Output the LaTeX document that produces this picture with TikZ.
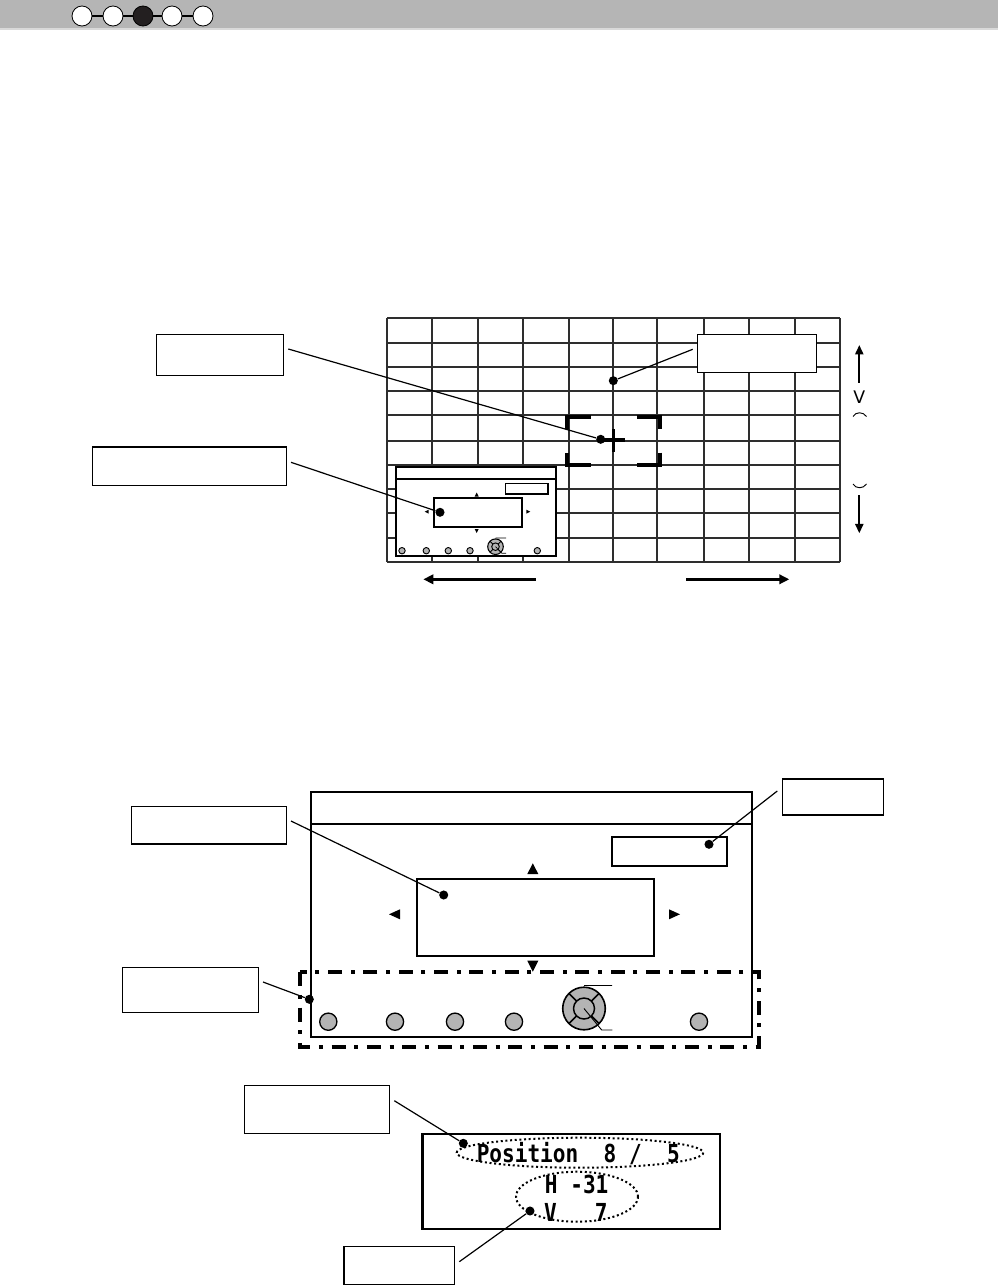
\documentclass[tikz,border=0pt]{standalone}
\usepackage{fontspec}
\usetikzlibrary{arrows.meta,fit,calc}
\newfontfamily\posfont[FakeStretch=0.85]{DejaVu Sans Mono}
\newfontfamily\symfont{DejaVu Sans}
\definecolor{hdr}{RGB}{181,181,181}
\definecolor{btn}{RGB}{180,180,180}
\definecolor{hdot}{RGB}{35,31,32}
\begin{document}
\begin{tikzpicture}[x=0.75pt,y=-0.75pt,
  lbl/.style={draw,line width=1.1pt,fill=white,inner sep=0pt},
  dotn/.style={circle,fill=black,inner sep=0pt,minimum size=6.8pt},
  lead/.style={line width=0.9pt},
  hc/.style={circle,draw,line width=0.6pt,fill=white,inner sep=0pt,minimum size=15pt},
  gridl/.style={line width=1.35pt,draw=black!82},
  brk/.style={line width=3pt},
  scr/.style={line width=1.5pt},
  btnc/.style={circle,draw,line width=0.9pt,fill=btn,inner sep=0pt},
  arr/.style={line width=1.9pt,-{Triangle[length=7.5pt,width=7pt]}},
  varr/.style={line width=1.5pt,-{Triangle[length=7pt,width=6pt]}},
  posbox/.style={draw,line width=2.2pt,inner sep=0pt},
  ell/.style={draw,line width=1.5pt,dotted},
  ptext/.style={font=\posfont\bfseries\fontsize{18.6}{18.6}\selectfont,inner sep=0pt},
  ddot/.style={line width=3pt,dash pattern=on 10.5pt off 6.5pt on 3pt off 6.5pt}
]
\useasboundingbox (0,0) rectangle (998,1285);
\fill[white] (0,0) rectangle (998,1285);
% header
\fill[hdr] (0,0) rectangle (998,28);
\draw[line width=0.8pt,black!15] (0,29) -- (998,29);
\node[hc] (h1) at (82,16) {};
\node[hc] (h2) at (113,16) {};
\node[hc,fill=hdot] (h3) at (143,16) {};
\node[hc] (h4) at (172,16) {};
\node[hc] (h5) at (203,16) {};
\draw[line width=0.8pt] (h1) -- (h2) (h2) -- (h3) (h3) -- (h4) (h4) -- (h5);

% grid
\foreach \gx in {387.3,432.3,477.7,523.3,569.3,613.3,657.3,704,749.3,795,840}
  \draw[gridl] (\gx,318.3) -- (\gx,561.7);
\foreach \gy in {318.3,342.7,366.7,391,415.3,441,465,489.3,513.3,537.7,561.7}
  \draw[gridl] (387.3,\gy) -- (840,\gy);

% crosshair brackets and plus
\draw[brk] (590.7,417.3) -- (567,417.3) -- (567,428.5);
\draw[brk] (567,452.5) -- (567,464.7) -- (590.7,464.7);
\draw[brk] (636.7,417.3) -- (659.5,417.3) -- (659.5,428.5);
\draw[brk] (659.5,452.5) -- (659.5,464.7) -- (636.7,464.7);
\draw[line width=2.5pt] (602.7,440) -- (625,440) (613.3,429) -- (613.3,451.7);

% inset screen
\draw[scr,fill=white] (395.7,466.7) rectangle (556,556);
\draw[scr] (395.7,479) -- (556,479);
\draw[line width=1pt] (505.3,483.3) rectangle (548,494);
\draw[scr] (434.3,498.3) rectangle (521.7,527);
\fill (474.7,496.5) -- (478.7,496.5) -- (476.7,492.5) -- cycle;
\fill (474.7,529) -- (478.7,529) -- (476.7,533) -- cycle;
\fill (428.7,509.7) -- (428.7,513.7) -- (424.7,511.7) -- cycle;
\fill (526.3,509.7) -- (526.3,513.7) -- (530.3,511.7) -- cycle;
\foreach \bx in {402,426.3,448.3,470,537.3}
  \draw[line width=0.7pt,fill=btn] (\bx,550.7) circle (3.2);
\draw[line width=0.8pt,fill=btn] (495.5,546.7) circle (7.8);
\draw[line width=0.7pt] (495.5,546.7) circle (3.8);
\foreach \a in {45,135,225,315}
  \draw[line width=0.6pt] ($(495.5,546.7)+(\a:3.8)$) -- ($(495.5,546.7)+(\a:7.8)$);
\draw[line width=0.5pt] (495.5,538) -- (506,538) (495.5,546.7) -- (502,553.3) -- (506,553.3);

% right side vertical arrows and labels
\draw[varr] (859.3,382.7) -- (859.3,345);
\draw[varr] (859.3,495) -- (859.3,533.3);
\node[font=\symfont\fontsize{13}{13}\selectfont,inner sep=0pt] (vlab) at (859.3,397.5) {V};
\draw[line width=0.7pt] (853,416.5) .. controls (856,411.5) and (863,411.5) .. (866.5,416.5);
\draw[line width=0.7pt] (853,484) .. controls (856,489) and (863,489) .. (866.5,484);

% bottom horizontal arrows
\draw[arr] (535.7,579.3) -- (423.3,579.3);
\draw[arr] (686,579.3) -- (789.3,579.3);

% upper label boxes and leaders
\node[lbl,fit={(156.3,334.3) (283.3,375.3)}] (b1) {};
\node[lbl,fit={(92.3,447) (286.7,485.3)}] (b2) {};
\node[lbl,fit={(697.3,334.3) (816.7,372.3)}] (b3) {};
\node[dotn] (d1) at (600.7,439.3) {};
\node[dotn] (d2) at (440,512.3) {};
\node[dotn] (d3) at (613.3,380.7) {};
\coordinate (s1) at (288.3,349);
\coordinate (s2) at (291,462.3);
\coordinate (s3) at (692.7,349.3);
\draw[lead] (s1) -- (d1);
\draw[lead] (s2) -- (d2);
\draw[lead] (s3) -- (d3);

% lower screen
\draw[line width=1.6pt] (310.7,791.7) rectangle (751.7,1036.7);
\draw[line width=1.6pt] (310.7,824.3) -- (751.7,824.3);
\draw[line width=1.4pt] (611.7,836.7) rectangle (727.3,866);
\draw[line width=1.6pt] (416.7,878.7) rectangle (654.3,956);
\fill (527.3,874) -- (538.3,874) -- (532.8,863.3) -- cycle;
\fill (527.3,960.7) -- (538.3,960.7) -- (532.8,971.7) -- cycle;
\fill (400,909.3) -- (400,919.3) -- (389,914.3) -- cycle;
\fill (669,909.3) -- (669,919.3) -- (680,914.3) -- cycle;
\draw[ddot] (300,972.3) rectangle (759,1046.7);
\foreach \bx in {328.3,395,455,514,699}
  \draw[line width=1pt,fill=btn] (\bx,1021.7) circle (8.6);
\draw[line width=1.2pt,fill=btn] (584,1008.5) circle (21.3);
\draw[line width=1.1pt] (584,1008.5) circle (10.5);
\foreach \a in {45,135,225,315}
  \draw[line width=1.1pt] ($(584,1008.5)+(\a:10.5)$) -- ($(584,1008.5)+(\a:21.3)$);
\draw[line width=0.7pt] (584,985.5) -- (612,985.5) (584,1008.5) -- (601.7,1030) -- (612.3,1030);

\node[lbl,fit={(131.3,806.3) (286.3,844)}] (b4) {};
\node[lbl,fit={(782.3,779) (883.7,815)}] (b5) {};
\node[lbl,fit={(122.3,967.3) (258.3,1012.3)}] (b6) {};
\node[dotn] (d4) at (443.7,895) {};
\node[dotn] (d5) at (709,844.3) {};
\node[dotn] (d6) at (309.3,999.3) {};
\coordinate (s4) at (291,821);
\coordinate (s5) at (777.3,791);
\coordinate (s6) at (263,982);
\draw[lead] (s4) -- (d4);
\draw[lead] (s5) -- (d5);
\draw[lead] (s6) -- (d6);

% position display
\node[posbox,fit={(422.3,1134) (720,1229)}] (pbox) {};
\node[ptext] (p1) at (578.3,1153.3) {Position\ \ 8 /\ \ 5};
\node[ptext] (p2) at (576.7,1184.3) {H -31};
\node[ptext] (p3) at (575.8,1212.3) {V\ \ \ 7};
\draw[ell] (580,1152.7) ellipse [x radius=123.3, y radius=15];
\draw[ell] (577,1196.7) ellipse [x radius=61, y radius=25];
\node[lbl,fit={(244.3,1085.3) (389.3,1133.3)}] (b7) {};
\node[lbl,fit={(344,1246.7) (454.3,1284.3)}] (b8) {};
\node[dotn] (d7) at (463.3,1143.3) {};
\node[dotn] (d8) at (530,1211) {};
\coordinate (s7) at (394.3,1100.7);
\coordinate (s8) at (459.3,1261.7);
\draw[lead] (s7) -- (d7);
\draw[lead] (s8) -- (d8);
\end{tikzpicture}
\end{document}
